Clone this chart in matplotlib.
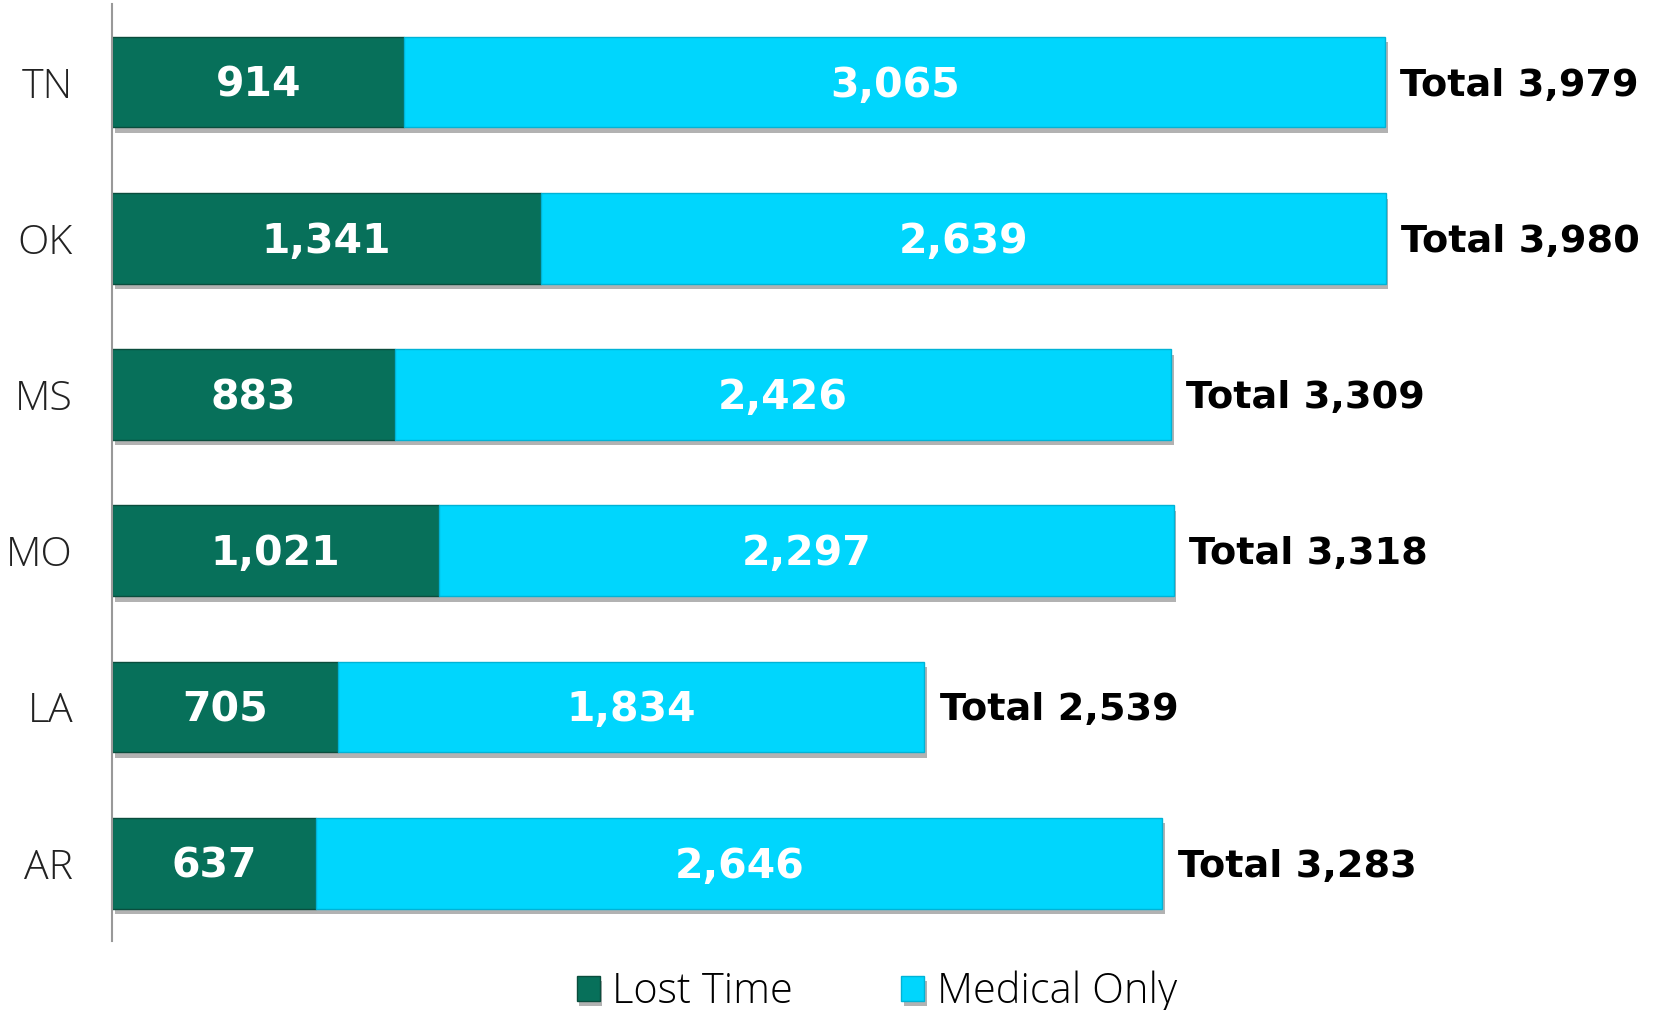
import matplotlib
matplotlib.use('Agg')
import matplotlib.pyplot as plt
import matplotlib.patheffects as pe

# data, top to bottom as in the chart
states = ['TN', 'OK', 'MS', 'MO', 'LA', 'AR']
lost_time = [914, 1341, 883, 1021, 705, 637]
medical_only = [3065, 2639, 2426, 2297, 1834, 2646]

green = '#07705a'
cyan = '#00d6fd'

fig = plt.figure(figsize=(16.54, 10.10), dpi=100)
ax = fig.add_axes([0.0677, 0.068, 0.9323, 0.928])

ypos = list(range(len(states)))[::-1]
shadow = [pe.SimplePatchShadow(offset=(2, -4), shadow_rgbFace='#555555', alpha=0.45), pe.Normal()]

b1 = ax.barh(ypos, lost_time, height=0.58, color=green, edgecolor='#0a4d3d', linewidth=1,
             label='Lost Time', path_effects=shadow)
b2 = ax.barh(ypos, medical_only, left=lost_time, height=0.58, color=cyan, edgecolor='#00b3d6',
             linewidth=1, label='Medical Only', path_effects=shadow)

lbl = dict(textcoords='offset points', va='center', fontweight='bold', family='DejaVu Sans')
for y, lt, mo in zip(ypos, lost_time, medical_only):
    ax.annotate(f'{lt:,}', xy=(lt / 2, y), xytext=(0, -2.5), ha='center', color='white',
                fontsize=29.5, **lbl)
    ax.annotate(f'{mo:,}', xy=(lt + mo / 2, y), xytext=(0, -2.5), ha='center', color='white',
                fontsize=29.5, **lbl)
    ax.annotate(f'Total {lt + mo:,}', xy=(lt + mo, y), xytext=(11, -2.5), ha='left',
                color='black', fontsize=27.5, **lbl)

ax.set_xlim(0, 4819)
ax.set_ylim(-0.5, 5.5)
ax.set_yticks(ypos)
ax.set_yticklabels(states, fontsize=29.5, family='Open Sans', fontweight='light', color='#222222')
ax.tick_params(axis='y', length=0, pad=28)
ax.set_xticks([])
for s in ['top', 'right', 'bottom']:
    ax.spines[s].set_visible(False)
ax.spines['left'].set_color('#999999')
ax.spines['left'].set_linewidth(1.5)

fig.legend(handles=[b1, b2], loc='center', bbox_to_anchor=(0.53, 0.018), ncol=2, frameon=False,
           prop={'family': 'Open Sans', 'weight': 'light', 'size': 30}, handlelength=0.55,
           handleheight=0.55, handletextpad=0.3, columnspacing=2.6)

fig.savefig('out.png', dpi=100, facecolor='white')
